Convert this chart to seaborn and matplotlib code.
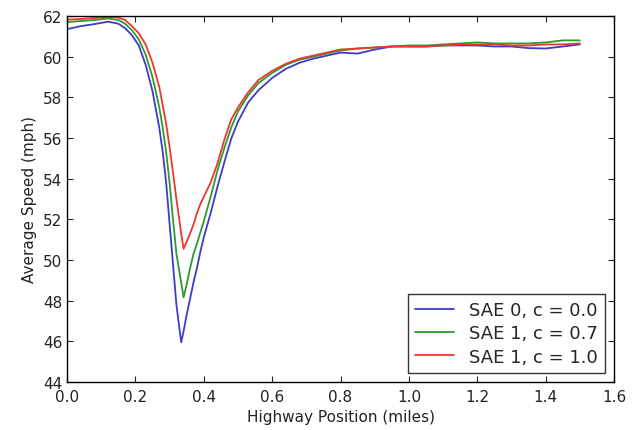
import matplotlib
matplotlib.use("Agg")
import matplotlib.pyplot as plt
import seaborn as sns
import pandas as pd

position = [0.00, 0.04, 0.08, 0.12, 0.15, 0.17, 0.19, 0.21, 0.23, 0.25,
            0.27, 0.28, 0.29, 0.30, 0.31, 0.32, 0.334, 0.341, 0.35, 0.36,
            0.37, 0.38, 0.39, 0.40, 0.42, 0.44, 0.46, 0.48, 0.50, 0.53,
            0.56, 0.60, 0.64, 0.68, 0.72, 0.76, 0.80, 0.85, 0.90, 0.95,
            1.00, 1.05, 1.10, 1.15, 1.20, 1.25, 1.30, 1.35, 1.40, 1.45, 1.50]

sae0_c00 = [61.35, 61.5, 61.6, 61.72, 61.62, 61.4, 61.05, 60.55, 59.6, 58.3,
            56.5, 55.3, 53.8, 51.8, 49.8, 47.8, 45.95, 46.5, 47.3, 48.1,
            48.9, 49.6, 50.4, 51.1, 52.3, 53.6, 54.8, 55.95, 56.8, 57.75,
            58.35, 58.95, 59.4, 59.7, 59.9, 60.05, 60.2, 60.15, 60.35, 60.5,
            60.5, 60.5, 60.55, 60.55, 60.55, 60.5, 60.5, 60.42, 60.4, 60.5, 60.6]

sae1_c07 = [61.7, 61.75, 61.8, 61.88, 61.8, 61.62, 61.3, 60.85, 60.1, 59.0,
            57.5, 56.5, 55.3, 53.8, 52.0, 50.3, 48.9, 48.16, 48.8, 49.6,
            50.3, 50.8, 51.35, 51.9, 53.1, 54.4, 55.5, 56.5, 57.3, 58.1,
            58.7, 59.2, 59.6, 59.85, 60.0, 60.15, 60.3, 60.4, 60.45, 60.5,
            60.55, 60.55, 60.6, 60.65, 60.7, 60.65, 60.65, 60.65, 60.7, 60.8, 60.8]

sae1_c10 = [61.82, 61.85, 61.9, 61.95, 61.92, 61.8, 61.5, 61.15, 60.6, 59.7,
            58.5, 57.6, 56.7, 55.55, 54.3, 53.0, 51.3, 50.55, 50.9, 51.3,
            51.75, 52.3, 52.75, 53.1, 53.8, 54.75, 55.9, 56.9, 57.5, 58.25,
            58.85, 59.3, 59.65, 59.9, 60.05, 60.2, 60.35, 60.4, 60.45, 60.5,
            60.5, 60.5, 60.55, 60.6, 60.6, 60.6, 60.55, 60.55, 60.6, 60.6, 60.65]

labels = ["SAE 0, c = 0.0", "SAE 1, c = 0.7", "SAE 1, c = 1.0"]
series = [sae0_c00, sae1_c07, sae1_c10]
colors = ["#3c3cc8", "#2f9a2f", "#e8392b"]

rows = []
for lab, vals in zip(labels, series):
    assert len(vals) == len(position)
    for x, v in zip(position, vals):
        rows.append({"pos": x, "speed": v, "run": lab})
df = pd.DataFrame(rows)

sns.set_style("ticks")
plt.rcParams.update({
    "font.family": ["DejaVu Sans"],
    "xtick.direction": "in", "ytick.direction": "in",
    "xtick.top": True, "ytick.right": True,
    "xtick.major.size": 4, "ytick.major.size": 4,
    "axes.edgecolor": "black", "axes.linewidth": 1.0,
})

fig = plt.figure(figsize=(6.4, 4.31), dpi=100)
ax = fig.add_axes([0.1047, 0.1114, 0.8547, 0.8492])
sns.lineplot(data=df, x="pos", y="speed", hue="run", palette=dict(zip(labels, colors)),
             estimator=None, sort=False, linewidth=1.3, ax=ax)

ax.set_xlim(0.0, 1.6)
ax.set_ylim(44, 62)
ax.set_xticks([0.0, 0.2, 0.4, 0.6, 0.8, 1.0, 1.2, 1.4, 1.6])
ax.set_yticks(list(range(44, 63, 2)))
ax.set_xticklabels([f"{t:.1f}" for t in ax.get_xticks()])
ax.tick_params(labelsize=11, colors="#222222", labelcolor="#222222")
ax.tick_params(axis="x", pad=5)
ax.set_xlabel("Highway Position (miles)", fontsize=11, color="#222222")
ax.set_ylabel("Average Speed (mph)", fontsize=11, color="#222222")
for s in ax.spines.values():
    s.set_visible(True)

leg = ax.legend(loc="lower right", fontsize=13, frameon=True, fancybox=False,
                edgecolor="black", handlelength=2.2, borderpad=0.4, labelspacing=0.3)
leg.get_frame().set_linewidth(1.0)
for line in leg.get_lines():
    line.set_linewidth(1.3)

fig.savefig("out.png", dpi=100)
